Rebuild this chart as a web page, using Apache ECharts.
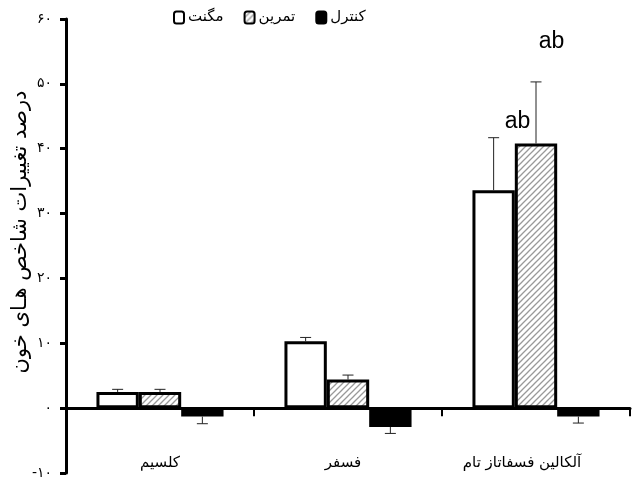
<!DOCTYPE html>
<html>
<head>
<meta charset="utf-8">
<script src="https://cdn.jsdelivr.net/npm/echarts@6/dist/echarts.min.js"></script>
<style>html,body{margin:0;padding:0;background:#fff}#c{width:632px;height:483px}</style>
</head>
<body>
<div id="c"></div>
<script>
// ---- data ----
const categories = ['کلسیم', 'فسفر', 'آلکالین فسفاتاز تام'];
const seriesNames = ['مگنت', 'تمرین', 'کنترل'];
const magnet = [2.5, 10.3, 33.6];
const training = [2.5, 4.4, 40.8];
const control = [-1.3, -2.9, -1.3];
const magnetErr = [0.4, 0.6, 8.1];
const trainingErr = [0.4, 0.7, 9.5];
const controlErr = [1.1, 1.0, 1.0];
const yTickValues = [-10, 0, 10, 20, 30, 40, 50, 60];
const yTickLabels = ['-۱۰', '۰', '۱۰', '۲۰', '۳۰', '۴۰', '۵۰', '۶۰'];
const yAxisTitle = 'درصد تغییرات شاخص هـای خون';
const annotationCats = [2, 2];
const annotationValues = [44.2, 56.5];
const annotationTexts = ['ab', 'ab'];

// ---- styling ----
const GAP_RATIO = 0.324;
const annotationOffsets = [-18.5, 15.5];
const labelPadding = [[0, 0, 0, 0], [0, 10, 0, 0], [0, 28, 0, 0]];
const arabicFont = "'DejaVu Sans', sans-serif";

const pat = document.createElement('canvas');
pat.width = 6; pat.height = 6;
const pc = pat.getContext('2d');
pc.fillStyle = '#fff'; pc.fillRect(0, 0, 6, 6);
pc.strokeStyle = '#999999'; pc.lineWidth = 1.3;
pc.beginPath();
pc.moveTo(0, 6); pc.lineTo(6, 0);
pc.moveTo(-1, 1); pc.lineTo(1, -1);
pc.moveTo(5, 7); pc.lineTo(7, 5);
pc.stroke();

const fills = ['#ffffff', {image: pat, repeat: 'repeat'}, '#000000'];
const values = [magnet, training, control];
const errs = [magnetErr, trainingErr, controlErr];

const chart = echarts.init(document.getElementById('c'), null, {renderer: 'canvas'});

const series = [];
values.forEach((vals, i) => {
  series.push({
    name: seriesNames[i],
    type: 'bar',
    data: vals,
    barGap: '0%',
    barCategoryGap: (GAP_RATIO * 100) + '%',
    itemStyle: {color: fills[i], borderColor: '#000', borderWidth: 3},
    emphasis: {disabled: true},
    z: 2
  });
});
values.forEach((vals, i) => {
  series.push({
    type: 'custom',
    z: 3,
    data: vals.map((v, k) => [k, v, errs[i][k]]),
    encode: {x: 0, y: 1},
    renderItem: function (params, api) {
      const idx = api.value(0), v = api.value(1), e = api.value(2);
      const band = api.size([1, 0])[0];
      const bw = band * (1 - GAP_RATIO) / 3;
      const p0 = api.coord([idx, v]);
      const cx = p0[0] + (i - 1) * bw;
      const p1 = api.coord([idx, v + (v >= 0 ? e : -e)]);
      const st = {stroke: '#222', lineWidth: 1};
      return {
        type: 'group',
        children: [
          {type: 'line', shape: {x1: cx, y1: p0[1], x2: cx, y2: p1[1]}, style: st},
          {type: 'line', shape: {x1: cx - 5.5, y1: p1[1], x2: cx + 5.5, y2: p1[1]}, style: st}
        ]
      };
    },
    silent: true
  });
});
series.push({
  type: 'custom',
  z: 4,
  data: annotationCats.map((c, k) => [c, annotationValues[k], k]),
  encode: {x: 0, y: 1},
  renderItem: function (params, api) {
    const p = api.coord([api.value(0), api.value(1)]);
    const k = api.value(2);
    return {
      type: 'text',
      style: {
        x: p[0] + annotationOffsets[k], y: p[1],
        text: annotationTexts[k],
        fill: '#000',
        font: "23px 'Liberation Sans Narrow', 'Liberation Sans', sans-serif",
        textAlign: 'center', textVerticalAlign: 'middle'
      }
    };
  },
  silent: true
});

chart.setOption({
  animation: false,
  backgroundColor: '#fff',
  grid: {left: 66, right: 2, top: 19, bottom: 10, containLabel: false, outerBoundsMode: 'none'},
  legend: {
    data: seriesNames,
    left: 168, top: 5,
    icon: 'roundRect',
    itemWidth: 10, itemHeight: 12,
    itemGap: 20,
    itemStyle: {borderWidth: 2, borderColor: '#000'},
    textStyle: {fontFamily: arabicFont, fontSize: 15, color: '#000', padding: [0, 0, 0, -1]}
  },
  xAxis: {
    type: 'category',
    data: categories.map((c, k) => ({value: c, textStyle: {padding: labelPadding[k]}})),
    axisLine: {onZero: true, lineStyle: {color: '#000', width: 3}},
    axisTick: {show: true, length: 8, lineStyle: {color: '#000', width: 2}},
    axisLabel: {margin: -17, fontFamily: arabicFont, fontSize: 15, color: '#000'},
    splitLine: {show: false}
  },
  yAxis: {
    type: 'value',
    min: -10, max: 60, interval: 10,
    axisLine: {show: true, lineStyle: {color: '#000', width: 3}},
    axisTick: {show: true, length: 6, lineStyle: {color: '#000', width: 3}},
    splitLine: {show: false},
    axisLabel: {
      margin: 14,
      fontFamily: arabicFont, fontSize: 14, color: '#000',
      formatter: v => yTickLabels[yTickValues.indexOf(v)]
    }
  },
  graphic: [{
    type: 'text',
    x: 21, y: 232,
    rotation: Math.PI / 2,
    style: {
      text: yAxisTitle,
      font: "21px 'DejaVu Sans', sans-serif",
      fill: '#000',
      textAlign: 'center', textVerticalAlign: 'middle'
    }
  }],
  series: series
});
</script>
</body>
</html>
